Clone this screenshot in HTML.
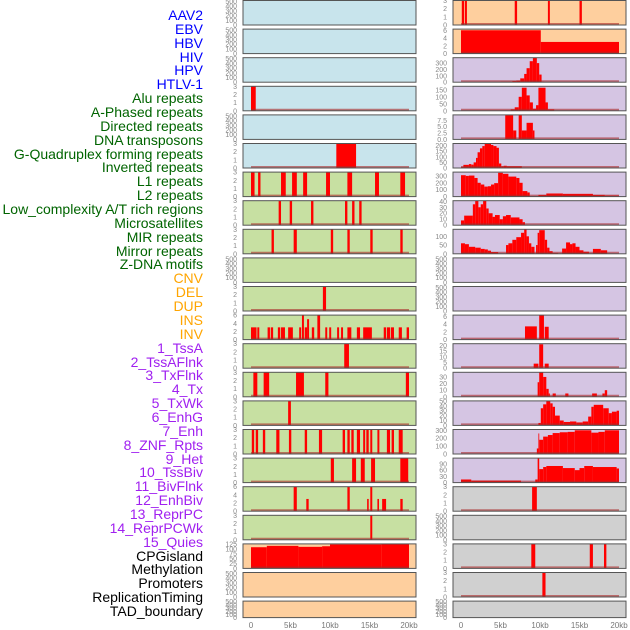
<!DOCTYPE html>
<html><head><meta charset="utf-8"><style>
html,body{margin:0;padding:0;background:#fff;width:630px;height:630px;overflow:hidden}
#labels div{position:absolute;right:427px;font-family:"Liberation Sans",sans-serif;font-size:14px;line-height:14px;white-space:nowrap}
</style></head><body>
<div id="labels"></div>
<svg id="chart" width="630" height="630" style="position:absolute;left:0;top:0" xmlns="http://www.w3.org/2000/svg"></svg>
<script>
// ---- track labels ----
const labelNames=["AAV2","EBV","HBV","HIV","HPV","HTLV-1","Alu repeats","A-Phased repeats","Directed repeats","DNA transposons","G-Quadruplex forming repeats","Inverted repeats","L1 repeats","L2 repeats","Low_complexity A/T rich regions","Microsatellites","MIR repeats","Mirror repeats","Z-DNA motifs","CNV","DEL","DUP","INS","INV","1_TssA","2_TssAFlnk","3_TxFlnk","4_Tx","5_TxWk","6_EnhG","7_Enh","8_ZNF_Rpts","9_Het","10_TssBiv","11_BivFlnk","12_EnhBiv","13_ReprPC","14_ReprPCWk","15_Quies","CPGisland","Methylation","Promoters","ReplicationTiming","TAD_boundary"];
const labelColors=[...Array(6).fill("#0000ff"),...Array(13).fill("#006400"),...Array(5).fill("#ffa500"),...Array(15).fill("#a020f0"),...Array(5).fill("#000000")];
// ---- x axis ----
const xTicks=[0,5,10,15,20];
const xTickLabels=["0","5kb","10kb","15kb","20kb"];
// ---- data segments: [startKb, endKb, value] ----
const segL3=[[0,0.6,3]];
const segL5=[[10.8,13.3,3]];
const segL6=[[0,0.45,3],[0.9,1.2,3],[3.8,4.4,3],[5.2,5.8,3],[6.6,7.1,3],[9.5,10,3],[12.2,12.8,3],[15.7,16.2,3],[18.9,19.5,3]];
const segL7=[[3.5,3.8,3],[4.9,5.2,3],[7.6,7.9,3],[11.9,12.2,3],[12.8,13.1,3],[13.7,14.0,3]];
const segL8=[[2.6,2.9,3],[5.4,5.8,3],[10.1,10.4,3],[12.2,12.5,3],[15.1,15.4,3],[18.9,19.2,3]];
const segL10=[[9.1,9.5,3]];
const segL11=[[0,0.7,3],[0.8,1.05,3],[2.1,2.4,3],[2.5,2.8,3],[3.4,3.7,3],[3.8,4.3,3],[4.7,5.3,3],[6.1,6.35,3],[6.45,6.7,6],[6.8,7.1,3],[7.1,7.35,5],[7.7,8.0,3],[8.4,8.75,6],[9.4,9.65,3],[9.9,10.15,3],[10.9,11.15,3],[11.4,11.65,3],[12.2,12.7,3],[13.4,13.8,3],[14.2,15.3,3],[16.8,17.1,3],[17.2,17.6,3],[17.7,18.1,3],[18.7,19.1,3],[19.7,20,3]];
const segL12=[[11.8,12.4,3]];
const segL13=[[0.3,0.8,3],[1.6,2.3,3],[5.7,6.7,3],[9.4,9.8,3],[19.6,20,3]];
const segL14=[[4.7,5.05,3]];
const segL15=[[0.1,0.4,3],[0.6,0.9,3],[1.5,1.8,3],[3.2,3.6,3],[4.8,5.1,3],[6.8,7.1,3],[8.6,9.0,3],[11.6,11.9,3],[12.2,12.5,3],[12.7,13.0,3],[13.4,13.8,3],[14.2,14.45,3],[14.6,14.9,3],[15.1,15.35,3],[16.0,16.25,3],[17.2,17.6,3],[17.8,18.1,3],[18.7,19.2,3]];
const segL16=[[10.1,10.5,3],[12.8,13.3,3],[13.9,14.4,3],[15.2,15.7,3],[18.9,19.9,3]];
const segL17=[[5.4,5.8,6],[7.0,7.3,3],[12.2,12.5,6],[14.7,14.9,3],[15.1,15.35,6],[16.0,16.2,3],[16.6,17.1,3],[18.9,19.2,3]];
const segL18=[[15.1,15.35,3]];
const segL19=[[0,2,108],[2,6,115],[6,9,110],[9,10,113],[10,16.5,122],[16.5,20,125]];
const segR0=[[0.1,0.4,3],[0.5,0.75,3],[6.8,7.1,3],[11,11.25,3],[15,15.3,3]];
const segR1=[[0,10.1,6],[10.1,20,3]];
const segR2=[[5,6.5,8],[6.5,7,18],[7,7.5,25],[7.5,8,60],[8,8.3,130],[8.3,8.7,220],[8.7,9.1,330],[9.1,9.6,380],[9.6,9.9,300],[9.9,10.2,120],[10.2,10.5,8]];
const segR3=[[6.3,6.8,10],[6.8,7.3,25],[7.3,7.7,100],[7.7,8.3,165],[8.3,8.7,110],[8.7,9.1,60],[9.1,9.5,15],[9.5,9.8,40],[9.8,10.7,165],[10.7,11.0,60],[11.0,11.8,10]];
const segR4=[[5.6,6.6,9.5],[6.6,7.0,3.5],[7.3,7.7,9.5],[7.7,8.3,3.5],[8.3,9.1,6.5],[9.1,9.3,3.5]];
const segR5=[[0,0.3,10],[0.3,1.0,28],[1.0,1.3,35],[1.3,1.6,30],[1.6,1.9,50],[1.9,2.1,90],[2.1,2.4,140],[2.4,2.7,175],[2.7,3.0,195],[3.0,3.8,215],[3.8,4.1,205],[4.1,4.5,195],[4.5,4.8,180],[4.8,5.1,40],[5.1,5.4,15],[5.4,5.8,20],[5.8,7.7,15]];
const segR6=[[0,0.6,310],[0.6,1.0,300],[1.0,1.7,305],[1.7,2.1,270],[2.1,2.5,200],[2.5,2.95,175],[2.95,3.4,145],[3.4,3.8,150],[3.8,4.2,175],[4.2,4.7,195],[4.7,5.3,345],[5.3,6.0,330],[6.0,7.0,290],[7.0,7.4,270],[7.4,7.8,200],[7.8,8.4,80],[8.4,8.7,60],[8.7,9.8,5],[9.8,10.8,25],[10.8,12.9,45],[12.9,16.7,40],[16.7,18.2,25],[18.2,20,15]];
const segR7=[[0,0.4,8],[0.4,1.5,16],[1.5,1.8,35],[1.8,2.2,41],[2.2,2.5,30],[2.5,2.8,35],[2.8,3.2,41],[3.2,3.5,28],[3.5,4.0,20],[4.0,4.3,14],[4.3,4.9,17],[4.9,5.3,10],[5.3,5.7,15],[5.7,6.3,17],[6.3,7.4,13],[7.4,7.8,10],[7.8,8.1,5]];
const segR8=[[0,0.5,60],[0.5,1.0,55],[1.0,1.8,40],[1.8,2.5,35],[2.5,3.0,28],[3.0,3.4,25],[3.4,3.8,18],[3.8,4.7,10],[5.7,6.0,50],[6.0,6.5,60],[6.5,7.0,80],[7.0,7.6,95],[7.6,8.0,120],[8.0,8.3,140],[8.3,8.6,100],[8.6,8.9,60],[8.9,9.3,40],[9.5,9.7,50],[9.7,9.9,120],[9.9,10.6,135],[10.6,10.9,80],[10.9,11.2,35],[11.2,11.6,15],[11.6,12.3,5],[12.8,13.3,30],[13.3,13.8,65],[13.8,14.1,55],[14.1,14.5,60],[14.5,15,40],[15,15.5,20],[15.5,16.2,12],[16.7,17.7,28],[17.7,18.5,20]];
const segR11=[[8.1,9.6,3.4],[9.9,10.5,6.3],[10.6,11.1,3.3]];
const segR12=[[9.2,9.8,4],[9.9,10.4,21],[10.6,11.1,4]];
const segR13=[[9.7,9.9,22],[9.9,10.4,37],[10.4,10.8,30],[10.8,11.1,12],[11.1,11.25,5],[11.6,12.0,5],[13.2,13.6,5],[16.6,17.2,5],[17.9,18.2,5],[18.2,18.5,10]];
const segR14=[[9.8,10.1,5],[10.1,10.4,35],[10.4,10.8,43],[10.8,11.3,50],[11.3,11.6,45],[11.6,11.9,38],[11.9,12.5,20],[12.5,13.0,10],[13,13.8,7],[13.8,14.6,8],[14.6,15.4,6],[15.4,16.1,8],[16.1,16.5,18],[16.5,16.8,38],[16.8,18.0,42],[18,18.7,35],[18.7,19.1,25],[19.1,19.7,28],[19.7,20,30]];
const segR15=[[9.6,9.8,70],[9.8,9.9,260],[9.9,10.4,180],[10.4,11,220],[11,11.6,240],[11.6,12.5,265],[12.5,13.5,275],[13.5,14.4,280],[14.4,16.5,300],[16.5,17.4,270],[17.4,18.2,280],[18.2,20,300]];
const segR16=[[0,1.3,15],[1.3,7.6,10],[9.4,9.7,15],[9.7,9.9,118],[9.9,10.4,65],[10.4,10.8,75],[10.8,12.9,80],[12.9,14.4,70],[14.4,15.0,60],[15.0,15.6,70],[15.6,16.7,80],[16.7,19.7,75],[19.7,20,68]];
const segR17=[[9.0,9.6,3]];
const segR19=[[8.9,9.4,3],[16.3,16.7,3],[18.1,18.4,3]];
const segR20=[[10.3,10.7,3]];
// ---- y ranges / ticks ----
const T3=[0,1,2,3], T6=[0,2,4,6], TE=[0,100,200,300,400,500];
const leftMax=[520,520,520,3,520,3,3,3,3,520,3,6,3,3,3,3,3,6,3,125,520,520];
const leftTicks=[TE,TE,TE,T3,TE,T3,T3,T3,T3,TE,T3,T6,T3,T3,T3,T3,T3,T6,T3,[0,25,50,75,100,125],TE,TE];
const leftSegs=[null,null,null,segL3,null,segL5,segL6,segL7,segL8,null,segL10,segL11,segL12,segL13,segL14,segL15,segL16,segL17,segL18,segL19,null,null];
const rightMax=[3,6.3,385,175,9.6,218,355,41,140,520,520,6.3,21.5,37,50,310,118,3,520,3,3,520];
const rightTicks=[T3,T6,[0,100,200,300],[0,50,100,150],["0.0","2.5","5.0","7.5"],[0,50,100,150,200],[0,100,200,300],[0,10,20,30,40],[0,50,100],TE,TE,T6,[0,5,10,15,20],[0,10,20,30],[0,10,20,30,40,50],[0,100,200,300],[0,30,60,90],T3,TE,T3,T3,TE];
const rightSegs=[segR0,segR1,segR2,segR3,segR4,segR5,segR6,segR7,segR8,null,null,segR11,segR12,segR13,segR14,segR15,segR16,segR17,null,segR19,segR20,null];
const leftBg=r=>r<6?"#c8e4ec":(r<19?"#c7e0a2":"#fecf9e");
const rightBg=r=>r<2?"#fecf9e":(r<17?"#d5c5e3":"#d0d0d0");

const NS="http://www.w3.org/2000/svg";
const svg=document.getElementById("chart");
function mk(tag,attrs,parent){const e=document.createElementNS(NS,tag);for(const k in attrs)e.setAttribute(k,attrs[k]);(parent||svg).appendChild(e);return e;}

const lab=document.getElementById("labels");
labelNames.forEach((t,i)=>{
  const d=document.createElement("div");
  
  
  d.style.top=(8+i*13.86)+"px";d.style.color=labelColors[i];d.textContent=t;lab.appendChild(d);
});

function drawPanel(col,r,ymax,ticks,segs,bg){
  const px=col===0?243:453, pw=173;
  const top=r*28.6+0.5, h=r===21?16.5:24.5, bottom=top+h;
  const x0=px+8, xs=k=>x0+k*7.9;
  const ys=v=>bottom-(v/ymax)*h;
  const g=mk("g",{});
  
  
  const bgR=mk("rect",{x:px,y:top,width:pw,height:h,fill:bg},g);
  
  
  ticks.forEach(t=>{
    const tx=mk("text",{x:px-6,y:ys(parseFloat(t))+2.5,"text-anchor":"end","font-size":"7","fill":"#888","font-family":"Liberation Sans, sans-serif"},g);
    
    
    tx.textContent=t;
  });
  if(segs){
    segs.forEach(s=>{
      const b=mk("rect",{x:xs(s[0]),y:ys(s[2]),width:Math.max(0.8,xs(s[1])-xs(s[0])),height:bottom-ys(s[2]),fill:"#ff0000"},g);
      
      
    });
    const bl=mk("line",{x1:xs(0),x2:xs(20),y1:bottom-1,y2:bottom-1,stroke:"rgba(170,40,40,0.6)","stroke-width":2},g);
    
    
  }
  const br=mk("rect",{x:px,y:top,width:pw,height:h,fill:"none",stroke:"#555","stroke-width":1},g);
  
  
}
for(let r=0;r<22;r++){
  drawPanel(0,r,leftMax[r],leftTicks[r],leftSegs[r],leftBg(r));
  drawPanel(1,r,rightMax[r],rightTicks[r],rightSegs[r],rightBg(r));
}
[251,461].forEach(x0=>{
  xTicks.forEach((k,i)=>{
    const t=mk("text",{x:x0+k*7.9,y:628,"text-anchor":"middle","font-size":"8","fill":"#777","font-family":"Liberation Sans, sans-serif"});
    
    
    t.textContent=xTickLabels[i];
  });
});
</script>
</body></html>
